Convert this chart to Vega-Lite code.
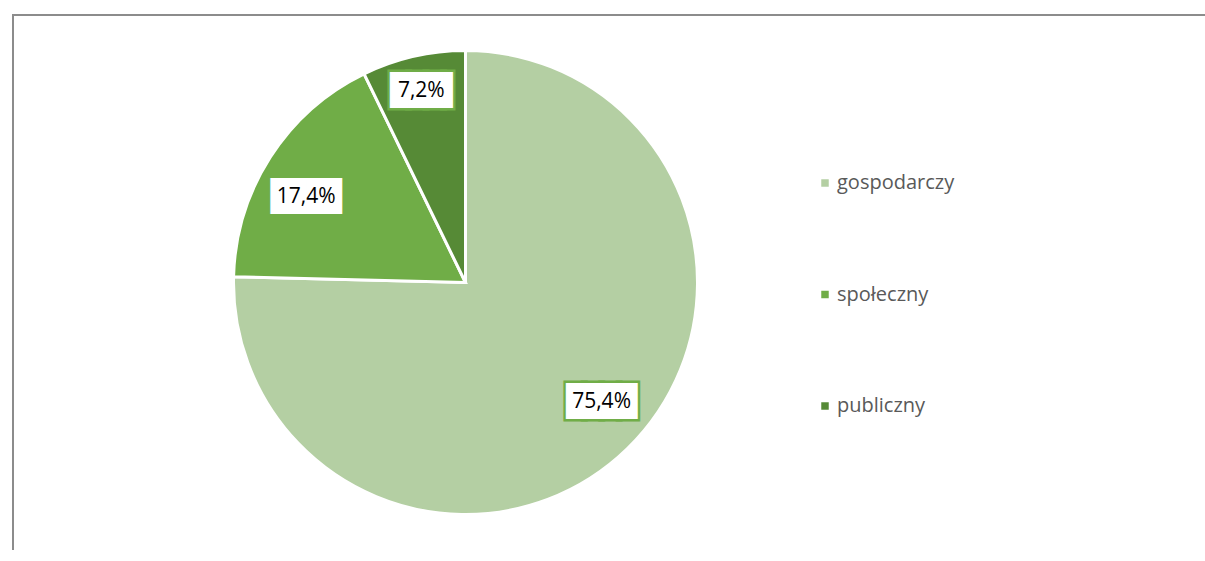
{
  "$schema": "https://vega.github.io/schema/vega-lite/v6.json",
  "padding": {"left": 12, "top": 14, "right": 0, "bottom": 0},
  "background": "white",
  "bounds": "flush",
  "spacing": 0,
  "resolve": {"scale": {"color": "independent", "theta": "independent"}, "legend": {"color": "independent"}},
  "datasets": {
    "sectors": [
      {"sector": "gospodarczy", "share": 0.754},
      {"sector": "społeczny", "share": 0.174},
      {"sector": "publiczny", "share": 0.072}
    ]
  },
  "hconcat": [
    {
      "width": 905,
      "height": 535,
      "data": {"name": "sectors"},
      "view": {"stroke": "#8c8c8c", "strokeWidth": 2, "strokeDash": [905, 1440, 535]},
      "layer": [
        {
          "mark": {"type": "arc", "radius": 232, "stroke": "white", "strokeWidth": 3},
          "encoding": {
            "theta": {"field": "share", "type": "quantitative", "stack": true},
            "color": {
              "field": "sector",
              "type": "nominal",
              "scale": {"domain": ["gospodarczy", "społeczny", "publiczny"], "range": ["#B4CFA3", "#70AD47", "#568A36"]},
              "legend": {
                "orient": "none",
                "legendX": 802,
                "legendY": 158,
                "title": null,
                "padding": 0,
                "direction": "vertical",
                "labelFont": "Open Sans",
                "labelFontSize": 20,
                "labelColor": "#595959",
                "labelOffset": 2,
                "symbolType": "square",
                "symbolSize": 56,
                "symbolStrokeWidth": 0,
                "rowPadding": 91.5
              }
            },
            "order": {"field": "share", "sort": "descending"}
          }
        },
        {
          "mark": {
            "type": "text",
            "font": "DejaVu Sans Mono",
            "fontSize": 29,
            "align": "center",
            "baseline": "middle",
            "text": {"expr": "datum.share < 0.1 ? '███▌' : '████'"},
            "dx": {"expr": "datum.share < 0.1 ? 4.4 : 0"},
            "fill": "white",
            "stroke": "#70AD47",
            "strokeWidth": 6.5,
            "radius": {"expr": "datum.share < 0.1 ? 197 : 181"},
            "thetaOffset": {"expr": "datum.share < 0.1 ? 0 : -0.078"}
          },
          "encoding": {
            "theta": {"field": "share", "type": "quantitative", "stack": true},
            "detail": {"field": "sector"},
            "order": {"field": "share", "sort": "descending"}
          }
        },
        {
          "mark": {
            "type": "text",
            "font": "DejaVu Sans Mono",
            "fontSize": 29,
            "align": "center",
            "baseline": "middle",
            "text": {"expr": "datum.share < 0.1 ? '███▌' : '████'"},
            "dx": {"expr": "datum.share < 0.1 ? 4.4 : 0"},
            "fill": "white",
            "stroke": "white",
            "strokeWidth": 1.5,
            "radius": {"expr": "datum.share < 0.1 ? 197 : 181"},
            "thetaOffset": {"expr": "datum.share < 0.1 ? 0 : -0.078"}
          },
          "encoding": {
            "theta": {"field": "share", "type": "quantitative", "stack": true},
            "detail": {"field": "sector"},
            "order": {"field": "share", "sort": "descending"}
          }
        },
        {
          "mark": {
            "type": "text",
            "font": "Open Sans",
            "fontSize": 21,
            "align": "center",
            "baseline": "middle",
            "fill": "#000000",
            "radius": {"expr": "datum.share < 0.1 ? 197 : 181"},
            "thetaOffset": {"expr": "datum.share < 0.1 ? 0 : -0.078"}
          },
          "encoding": {
            "theta": {"field": "share", "type": "quantitative", "stack": true},
            "detail": {"field": "sector"},
            "order": {"field": "share", "sort": "descending"},
            "text": {"field": "share", "type": "quantitative", "format": ".1%"}
          }
        }
      ]
    },
    {
      "width": 288,
      "height": 535,
      "data": {"values": [{"a": 1}]},
      "mark": {"type": "text", "text": ""},
      "encoding": {},
      "view": {"stroke": "#8c8c8c", "strokeWidth": 2, "strokeDash": [288, 3000]}
    }
  ],
  "config": {
    "view": {"stroke": "#8c8c8c", "strokeWidth": 2},
    "locale": {"number": {"decimal": ",", "thousands": " ", "grouping": [3], "currency": ["", " zł"]}}
  }
}
